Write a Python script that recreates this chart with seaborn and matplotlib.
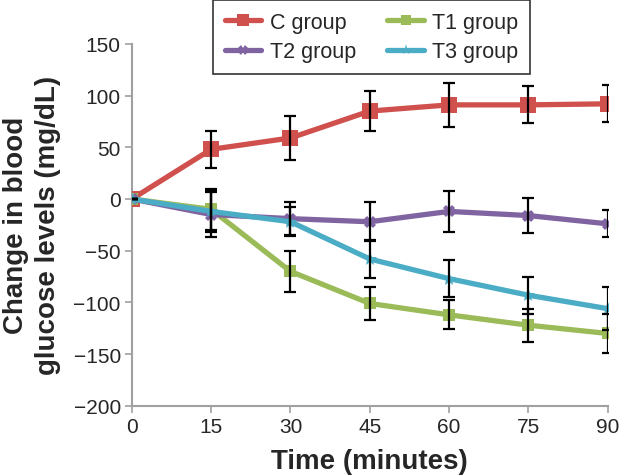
import numpy as np
import pandas as pd
import matplotlib
matplotlib.use('Agg')
import matplotlib.pyplot as plt
import seaborn as sns
from matplotlib.lines import Line2D

# Datos
time_min = [0, 15, 30, 45, 60, 75, 90]
groups = ['C group', 'T1 group', 'T2 group', 'T3 group']

c_mean = [0, 48, 59, 85, 91, 91, 92]
c_err = [0, 18, 21, 19, 21, 18, 18]
t1_mean = [0, -10, -70, -101, -112, -122, -130]
t1_err = [0, 20, 20, 16, 14, 16, 19]
t2_mean = [0, -15, -19, -22, -12, -16, -24]
t2_err = [0, 22, 16, 19, 20, 17, 13]
t3_mean = [0, -12, -22, -58, -77, -93, -106]
t3_err = [0, 20, 14, 18, 18, 18, 21]

colors = {'C group': '#D0504D', 'T1 group': '#9BBB59',
          'T2 group': '#8064A2', 'T3 group': '#4BACC6'}
markers = {'C group': 's', 'T1 group': 's', 'T2 group': 'X', 'T3 group': '*'}
msizes = {'C group': 11, 'T1 group': 9, 'T2 group': 9, 'T3 group': 10}

means = [c_mean, t1_mean, t2_mean, t3_mean]
errs = [c_err, t1_err, t2_err, t3_err]

df = pd.DataFrame({
    'time': np.tile(time_min, len(groups)),
    'value': np.concatenate(means),
    'err': np.concatenate(errs),
    'group': np.repeat(groups, len(time_min)),
})

sns.set_style('white')
plt.rcParams['font.family'] = ['Liberation Sans', 'DejaVu Sans']

fig = plt.figure(figsize=(6.22, 4.77), dpi=100)
ax = fig.add_axes([0.212, 0.147, 0.765, 0.759])

for g in groups:
    sub = df[df['group'] == g]
    sns.lineplot(data=sub, x='time', y='value', color=colors[g], marker=markers[g],
                 markersize=msizes[g], markeredgewidth=0, linewidth=3.8,
                 ax=ax, legend=False, zorder=3)

for g in groups:
    sub = df[df['group'] == g]
    ax.errorbar(sub['time'], sub['value'], yerr=sub['err'], fmt='none',
                ecolor='black', elinewidth=1.6, capsize=4, capthick=1.6, zorder=4)

ax.set_xlim(0, 90)
ax.set_ylim(-200, 150)
ax.set_xticks(time_min)
ax.set_yticks(range(-200, 151, 50))
ax.set_yticklabels([str(v).replace('-', '\u2212') for v in range(-200, 151, 50)])
ax.tick_params(axis='both', labelsize=15, length=5, width=1.2, color='#A0A0A0',
               direction='out', bottom=True, left=True, pad=3)
for s in ['top', 'right']:
    ax.spines[s].set_visible(False)
for s in ['left', 'bottom']:
    ax.spines[s].set_color('#A0A0A0')
    ax.spines[s].set_linewidth(1.5)

ax.set_xlabel('Time (minutes)', fontsize=20, fontweight='bold', labelpad=9)
ax.set_ylabel('Change in blood\nglucose levels (mg/dL)', fontsize=20,
              fontweight='bold', linespacing=1.3, labelpad=9)

# Leyenda (orden columna: C, T2 | T1, T3)
order = ['C group', 'T2 group', 'T1 group', 'T3 group']
handles = [Line2D([0], [0], color=colors[g], lw=3.8, marker=markers[g],
                  markersize=msizes[g] - 2, markeredgewidth=0) for g in order]
leg = fig.legend(handles, order, loc='upper left', bbox_to_anchor=(0.342, 0.998),
                 ncol=2, fontsize=15.5, frameon=True, fancybox=False,
                 edgecolor='black', handlelength=1.7, columnspacing=1.45,
                 handletextpad=0.4, borderpad=0.55, labelspacing=0.4,
                 borderaxespad=0)
leg.get_frame().set_linewidth(1.2)

fig.savefig('out.png', dpi=100)
